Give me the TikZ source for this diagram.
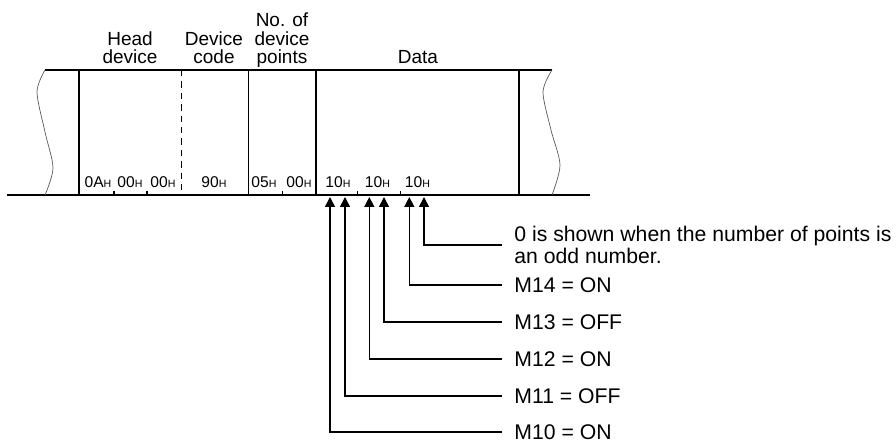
\documentclass[tikz,border=0pt]{standalone}
\usepackage{fontspec}
\setmainfont{Liberation Sans}
\usetikzlibrary{arrows.meta}
\newcommand{\hexv}[1]{#1{\fontsize{5.3}{6}\selectfont H}}

\begin{document}
\begin{tikzpicture}[x=0.5pt,y=-0.5pt,
   frame/.style={line width=0.7pt},
   wave/.style={gray!70!black,line width=0.35pt},
   hdr/.style={anchor=south,align=center,inner sep=0pt,text depth=0pt,font=\fontsize{9.5}{9.25}\selectfont},
   hexlbl/.style={anchor=base,inner sep=0pt,font=\fontsize{7.8}{8}\selectfont},
   bitlbl/.style={anchor=west,align=left,inner xsep=6pt,inner ysep=0pt,font=\fontsize{10.6}{11}\selectfont},
   ptr/.style={-{Triangle[length=5pt,width=5pt]},line width=0.75pt}]
\useasboundingbox (0,0) rectangle (896,442);
% frame of the message
\draw[frame] (45,70) -- (552,70);
\draw[frame,line width=1pt] (7,195) -- (590,195);
\draw[frame] (79,70) -- (79,195);
\draw[frame,dashed,dash pattern=on 3.2pt off 2.5pt] (181.7,70) -- (181.7,195);
\draw[frame] (248.7,70) -- (248.7,195);
\draw[frame] (316,70) -- (316,195);
\draw[frame] (519,70) -- (519,195);
\draw[wave] plot[smooth] coordinates {(45,70) (37,92) (45,132) (53,168) (45,195)};
\draw[wave] plot[smooth] coordinates {(552,70) (543,92) (551,130) (560,165) (552,195)};
% byte ticks
\draw[frame] (114,195) -- (114,191);
\draw[frame] (147,195) -- (147,191);
\draw[frame] (282.7,195) -- (282.7,191);
\draw[frame] (357.3,195) -- (357.3,191);
\draw[frame] (400.7,195) -- (400.7,191);
% headers
\node[hdr] (head) at (130,64) {Head\\device};
\node[hdr] (code) at (214,64) {Device\\code};
\node[hdr] (npts) at (282,64) {No. of\\device\\points};
\node[hdr] (data) at (418,64) {Data};
% byte values
\node[hexlbl] (b1) at (98,188) {\hexv{0A}};
\node[hexlbl] (b2) at (130,188) {\hexv{00}};
\node[hexlbl] (b3) at (163,188) {\hexv{00}};
\node[hexlbl] (b4) at (214,188) {\hexv{90}};
\node[hexlbl] (b5) at (264,188) {\hexv{05}};
\node[hexlbl] (b6) at (299,188) {\hexv{00}};
\node[hexlbl] (b7) at (338,188) {\hexv{10}};
\node[hexlbl] (b8) at (377.5,188) {\hexv{10}};
\node[hexlbl] (b9) at (417.5,188) {\hexv{10}};
% bit points
\coordinate (pM10) at (330,197);
\coordinate (pM11) at (345,197);
\coordinate (pM12) at (369.3,197);
\coordinate (pM13) at (384,197);
\coordinate (pM14) at (409.3,197);
\coordinate (pPad) at (424,197);
% bit meanings
\node[bitlbl] (pad) at (502,245) {0 is shown when the number of points is\\an odd number.};
\node[bitlbl] (M14) at (502,285) {M14 = ON};
\node[bitlbl] (M13) at (502,322) {M13 = OFF};
\node[bitlbl] (M12) at (502,359) {M12 = ON};
\node[bitlbl] (M11) at (502,396) {M11 = OFF};
\node[bitlbl] (M10) at (502,432) {M10 = ON};
\draw[ptr] (pad.west) -| (pPad);
\draw[ptr] (M14.west) -| (pM14);
\draw[ptr] (M13.west) -| (pM13);
\draw[ptr] (M12.west) -| (pM12);
\draw[ptr] (M11.west) -| (pM11);
\draw[ptr] (M10.west) -| (pM10);
\end{tikzpicture}
\end{document}
